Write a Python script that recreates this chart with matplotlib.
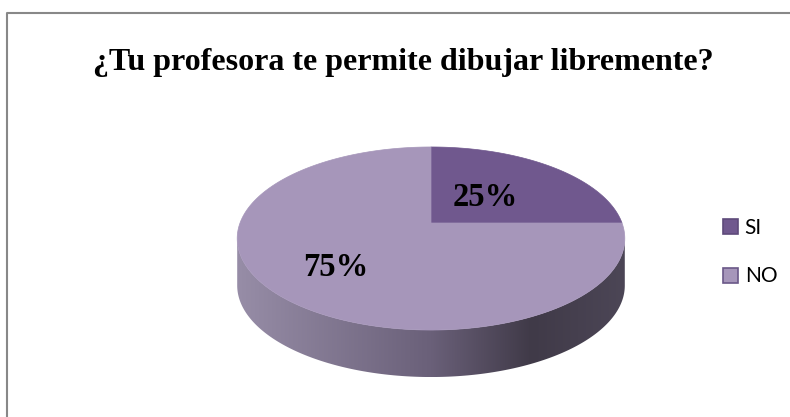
import numpy as np
import matplotlib
matplotlib.use("Agg")
import matplotlib.pyplot as plt
from matplotlib.patches import Polygon, Patch
from matplotlib.colors import LinearSegmentedColormap

# datos del grafico
titulo = "¿Tu profesora te permite dibujar libremente?"
categorias = ["SI", "NO"]
valores = [25, 75]
colores = ["#70588E", "#A696BA"]
bordes = ["#5E4A7A", "#6A5888"]

# geometria de la torta 3D (pixeles)
cx, cy = 431, 223
a, b, p = 191, 88.9, 0.1694
alto = 47
label_r = [0.42, 0.65]


def proyectar(u, v):
    d = 1 + p * v
    return cx + a * u / d, cy - b * v / d


fig = plt.figure(figsize=(7.9, 4.17), dpi=100)
ax = fig.add_axes([0, 0, 1, 1])
ax.set_xlim(0, 790)
ax.set_ylim(417, 0)
ax.axis("off")

# marco
ax.plot([7, 7, 790], [417, 13, 13], color="#888888", lw=1.5)

ax.text(403, 70, titulo, ha="center", va="baseline", fontsize=23,
        fontweight="bold", family="Liberation Serif")

# pared lateral (parte frontal visible)
s0 = np.arcsin(-p)
s = np.linspace(np.pi - s0, 2 * np.pi + s0, 200)
fx, fy = proyectar(np.cos(s), np.sin(s))
pared = np.column_stack([np.r_[fx, fx[::-1]], np.r_[fy, fy[::-1] + alto]])
poly = Polygon(pared, closed=True, facecolor="none", edgecolor="none")
ax.add_patch(poly)
cmap = LinearSegmentedColormap.from_list(
    "pared",
    [(0.0, "#978DA7"), (0.5, "#6A6079"), (0.76, "#403A48"), (1.0, "#4C4656")])
grad = np.linspace(0, 1, 256).reshape(1, -1)
img = ax.imshow(grad, cmap=cmap, aspect="auto",
                extent=[fx.min(), fx.max(), fy.max() + alto, fy.min()],
                zorder=1)
img.set_clip_path(poly)

# cara superior: rebanadas desde las 12 en sentido horario
total = sum(valores)
inicio = 0.0
for i, val in enumerate(valores):
    ang = 2 * np.pi * val / total
    t = np.linspace(inicio, inicio + ang, 200)
    x, y = proyectar(np.sin(t), np.cos(t))
    pts = np.column_stack([np.r_[cx, x], np.r_[cy, y]])
    ax.add_patch(Polygon(pts, closed=True, facecolor=colores[i],
                         edgecolor=colores[i], lw=0.5, zorder=2))
    mid = inicio + ang / 2
    r = label_r[i]
    lx, ly = proyectar(r * np.sin(mid), r * np.cos(mid))
    ax.text(lx, ly, f"{val / total:.0%}", ha="center", va="center",
            fontsize=23.5, fontweight="bold", family="Liberation Serif",
            zorder=3)
    inicio += ang

handles = [Patch(facecolor=c, edgecolor=e, lw=1.2) for c, e in zip(colores, bordes)]
fig.legend(handles, categorias, loc="center left", bbox_to_anchor=(0.892, 0.395),
           frameon=False, handlelength=0.72, handleheight=0.72, handletextpad=0.3,
           labelspacing=1.36, prop={"family": "Lato", "size": 15})

fig.savefig("out.png", dpi=100)
